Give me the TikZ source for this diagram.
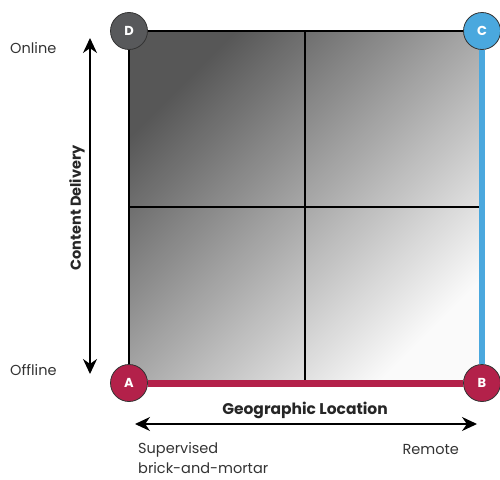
\documentclass[tikz,border=0pt]{standalone}
\usepackage{fontspec}
\setmainfont{Poppins}
\usetikzlibrary{arrows.meta}
\definecolor{crimson}{HTML}{B3214A}
\definecolor{skyb}{HTML}{4AA8DE}
\definecolor{darkd}{HTML}{58595B}
\begin{document}
\begin{tikzpicture}[x=1pt,y=-1pt,
  corner/.style={circle,draw=black!80,line width=0.8pt,minimum size=37pt,inner sep=0pt,text=white,font=\fontsize{13}{13}\selectfont\bfseries},
  lbl/.style={font=\fontsize{14.5}{16}\selectfont,text=black!80,inner sep=0pt},
  axislbl/.style={font=\fontsize{15.5}{17}\selectfont\bfseries,text=black!85,inner sep=0pt},
  axisarrow/.style={line width=1.4pt,{Stealth[length=15pt,width=14pt]}-{Stealth[length=15pt,width=14pt]}},
  grid/.style={line width=1.1pt,black}]
\useasboundingbox (0,0) rectangle (500,479);
\shade[top color=black!66,middle color=black!20,bottom color=black!2,shading angle=45] (129,31) rectangle (482,383);
\coordinate (mt) at (305,31);
\coordinate (mb) at (305,383);
\coordinate (ml) at (129,207);
\coordinate (mr) at (482,207);
\draw[grid] (mt) -- (mb);
\draw[grid] (ml) -- (mr);
\node[corner,fill=darkd] (D) at (129,31) {D};
\node[corner,fill=skyb] (C) at (482,31) {C};
\node[corner,fill=crimson] (A) at (129,383) {A};
\node[corner,fill=crimson] (B) at (482,383) {B};
\draw[grid] (D) -- (C);
\draw[grid] (D) -- (A);
\draw[line width=7pt,crimson] (A) -- (B);
\draw[line width=6pt,skyb] (B) -- (C);
\coordinate (vt) at (90,38);
\coordinate (vb) at (90,374);
\draw[axisarrow] (vt) -- (vb);
\coordinate (hl) at (135,424);
\coordinate (hr) at (477,424);
\draw[axisarrow] (hl) -- (hr);
\node[axislbl] (geo) at (305,410) {Geographic Location};
\node[axislbl,rotate=90,font=\fontsize{14.5}{16}\selectfont\bfseries] (cd) at (77,208) {Content Delivery};
\node[lbl,anchor=west] (on) at (10,48) {Online};
\node[lbl,anchor=west] (off) at (10,370) {Offline};
\node[lbl,anchor=west] (sup) at (138,450) {Supervised};
\node[lbl,anchor=west] (bm) at (138,468) {brick-and-mortar};
\node[lbl,anchor=east] (rem) at (459,450) {Remote};
\end{tikzpicture}
\end{document}
